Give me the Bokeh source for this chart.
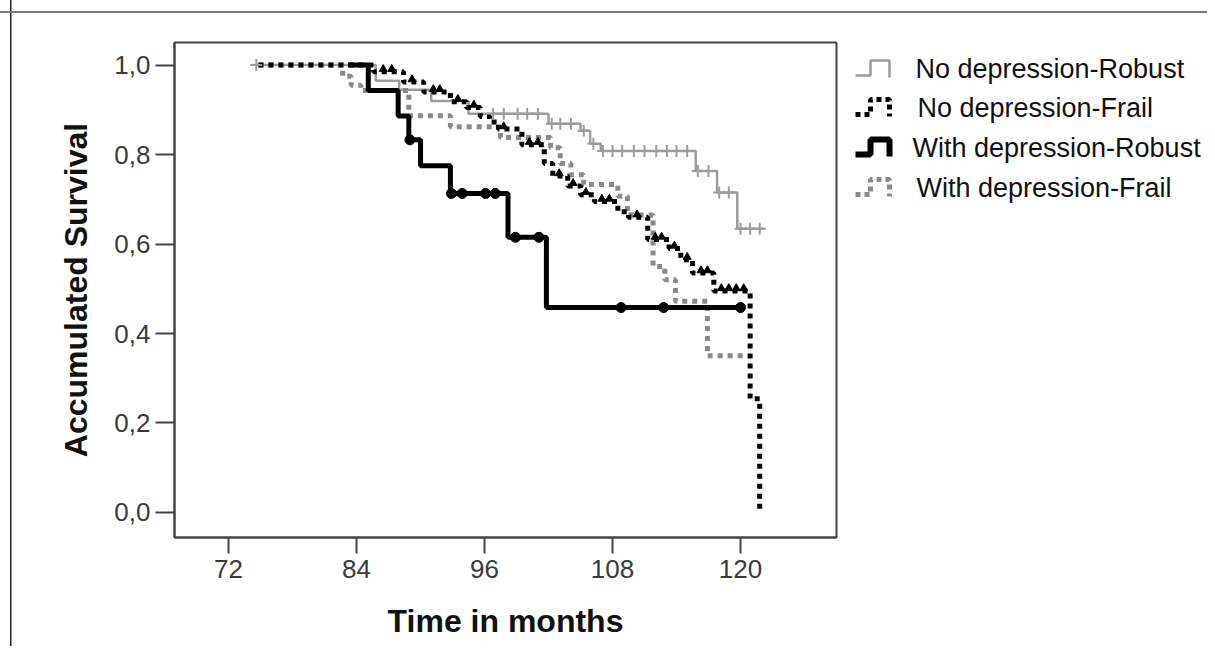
import numpy as np
from bokeh.plotting import figure
from bokeh.layouts import row
from bokeh.models import Range1d, FixedTicker
from bokeh.core.properties import value
from bokeh.embed import file_html
from bokeh.resources import INLINE

# ---------------- data (months, accumulated survival) ----------------
series_names = ["No depression-Robust", "No depression-Frail",
                "With depression-Robust", "With depression-Frail"]

ndr_t = [74.6, 85.8, 88.0, 91.0, 94.5, 102.0, 105.0, 105.9, 106.9, 115.8, 117.8, 119.7, 122.2]
ndr_s = [1.0, 0.965, 0.945, 0.92, 0.891, 0.869, 0.853, 0.824, 0.808, 0.763, 0.715, 0.634, 0.634]
ndr_cens = [74.6, 96.8, 97.8, 99.1, 100.0, 101.0, 102.3, 103.1, 104.1, 105.3, 106.2, 107.1,
            108.0, 108.9, 110.0, 111.0, 112.1, 113.1, 114.0, 115.0, 116.0, 117.0, 118.0,
            118.9, 120.0, 120.9, 121.8]

ndf_t = [74.8, 85.6, 88.4, 90.3, 92.8, 94.3, 95.6, 96.5, 97.3, 99.5, 101.6, 102.4, 103.8,
         105.0, 106.3, 108.5, 109.5, 111.3, 113.3, 114.4, 115.5, 117.5, 120.9, 121.8]
ndf_s = [1.0, 0.985, 0.962, 0.94, 0.918, 0.905, 0.885, 0.873, 0.857, 0.822, 0.78, 0.752, 0.73,
         0.71, 0.695, 0.672, 0.66, 0.61, 0.59, 0.565, 0.535, 0.495, 0.254, 0.0]
ndf_cens = [86.5, 87.3, 89.2, 91.2, 91.8, 93.5, 95.0, 97.8, 100.2, 101.0, 103.0, 104.3, 105.5,
            107.0, 107.7, 110.3, 112.0, 112.6, 113.8, 115.0, 116.3, 116.9, 118.2, 118.9,
            119.6, 120.3]

wdr_t = [83.2, 85.1, 87.9, 88.9, 90.0, 92.8, 98.2, 101.8, 120.0]
wdr_s = [1.0, 0.943, 0.886, 0.833, 0.775, 0.713, 0.615, 0.458, 0.458]
wdr_cens = [89.0, 92.9, 93.9, 96.1, 97.0, 98.9, 101.1, 108.8, 112.8, 120.0]

wdf_t = [74.8, 82.7, 83.5, 84.4, 88.9, 92.8, 97.5, 102.2, 103.1, 104.1, 105.3, 108.5, 109.4,
         111.8, 112.9, 113.9, 116.9, 120.2]
wdf_s = [1.0, 0.975, 0.955, 0.943, 0.887, 0.862, 0.838, 0.815, 0.78, 0.755, 0.733, 0.707,
         0.665, 0.55, 0.52, 0.472, 0.35, 0.35]

x_ticks = [72, 84, 96, 108, 120]
y_ticks = [0.0, 0.2, 0.4, 0.6, 0.8, 1.0]
y_tick_labels = ["0,0", "0,2", "0,4", "0,6", "0,8", "1,0"]


def surv_at(ts, ss, times):
    ts = np.asarray(ts)
    ss = np.asarray(ss)
    idx = np.searchsorted(ts, np.asarray(times), side="right") - 1
    idx = np.clip(idx, 0, len(ss) - 1)
    return ss[idx]


GRAY_L = "#9c9c9c"
GRAY_D = "#8a8a8a"
BLACK = "#000000"
FONT = "Liberation Sans"

BORDER_TOP, BORDER_BOTTOM = 42, 109
FIG_H = 646

p = figure(width=848, height=FIG_H, x_range=Range1d(66.93, 129.0), y_range=Range1d(-0.056, 1.0505),
           output_backend="svg", toolbar_location=None,
           min_border_left=174, min_border_right=12,
           min_border_top=BORDER_TOP, min_border_bottom=BORDER_BOTTOM)
p.border_fill_color = None
p.background_fill_color = "white"
p.outline_line_color = "#444444"
p.outline_line_width = 2
p.xgrid.visible = False
p.ygrid.visible = False

# curves
p.step(ndr_t, ndr_s, mode="after", line_color=GRAY_L, line_width=2.5)
p.step(wdf_t, wdf_s, mode="after", line_color=GRAY_D, line_width=5, line_dash="5 5")
p.step(ndf_t, ndf_s, mode="after", line_color=BLACK, line_width=5, line_dash="5 5")
p.step(wdr_t, wdr_s, mode="after", line_color=BLACK, line_width=5)

# censor marks
p.scatter(ndr_cens, surv_at(ndr_t, ndr_s, ndr_cens), marker="cross", size=12,
          line_color=GRAY_L, line_width=2)
p.scatter(ndf_cens, surv_at(ndf_t, ndf_s, ndf_cens) + 0.006, marker="triangle", size=8,
          fill_color=BLACK, line_color=BLACK)
p.scatter(wdr_cens, surv_at(wdr_t, wdr_s, wdr_cens), marker="circle", size=10,
          fill_color=BLACK, line_color=BLACK)

# axes
for ax in (p.xaxis[0], p.yaxis[0]):
    ax.axis_line_color = "#444444"
    ax.axis_line_width = 2
    ax.major_tick_line_color = "#444444"
    ax.major_tick_line_width = 2
    ax.major_tick_in = 0
    ax.minor_tick_line_color = None
    ax.major_label_text_font = FONT
    ax.major_label_text_font_size = "26px"
    ax.major_label_text_color = "#3a3a3a"
    ax.axis_label_text_font = FONT
    ax.axis_label_text_font_style = "bold"
    ax.axis_label_text_font_size = "32px"
    ax.axis_label_text_color = "#111111"

p.xaxis.ticker = FixedTicker(ticks=x_ticks)
p.xaxis.major_tick_out = 16
p.xaxis.major_label_standoff = 6
p.xaxis.axis_label = "Time in months"
p.xaxis.axis_label_standoff = 22

p.yaxis.ticker = FixedTicker(ticks=y_ticks)
p.yaxis.major_label_overrides = {t: l for t, l in zip(y_ticks, y_tick_labels)}
p.yaxis.major_tick_out = 19
p.yaxis.major_label_standoff = 5
p.yaxis.axis_label = "Accumulated Survival"
p.yaxis.axis_label_standoff = 17

# ---------------- legend panel (pixel coordinates of the page) ----------------
lg = figure(width=359, height=FIG_H, x_range=Range1d(0, 359),
            y_range=Range1d(FIG_H - BORDER_BOTTOM, BORDER_TOP),
            output_backend="svg", toolbar_location=None,
            min_border_left=0, min_border_right=0,
            min_border_top=BORDER_TOP, min_border_bottom=BORDER_BOTTOM)
lg.axis.visible = False
lg.xgrid.visible = False
lg.ygrid.visible = False
lg.outline_line_color = None
lg.border_fill_color = None
lg.background_fill_color = None

row_y = [68, 107, 147, 187]
text_x = [67, 69, 64, 68]
icon_dx = [7, 22, 22, 41, 41]
icon_dy = [7, 7, -8, -8, 9]
styles = [dict(line_color=GRAY_L, line_width=2.5),
          dict(line_color=BLACK, line_width=5, line_dash="5 4"),
          dict(line_color=BLACK, line_width=6),
          dict(line_color=GRAY_D, line_width=5, line_dash="5 4")]
for cy, tx, name, st in zip(row_y, text_x, series_names, styles):
    lg.line([d for d in icon_dx], [cy + d for d in icon_dy], **st)
    lg.text([tx], [cy], text=[name], text_font=value(FONT), text_font_size="27px",
            text_color="#111111", text_baseline="middle", text_align="left")

layout = row(p, lg, styles={
    "background-image": "linear-gradient(#777777,#777777), linear-gradient(#222222,#222222)",
    "background-size": "100% 2px, 1.5px 100%",
    "background-position": "0 11px, 10px 0",
    "background-repeat": "no-repeat",
})

open("out.html", "w").write(file_html(layout, INLINE))
